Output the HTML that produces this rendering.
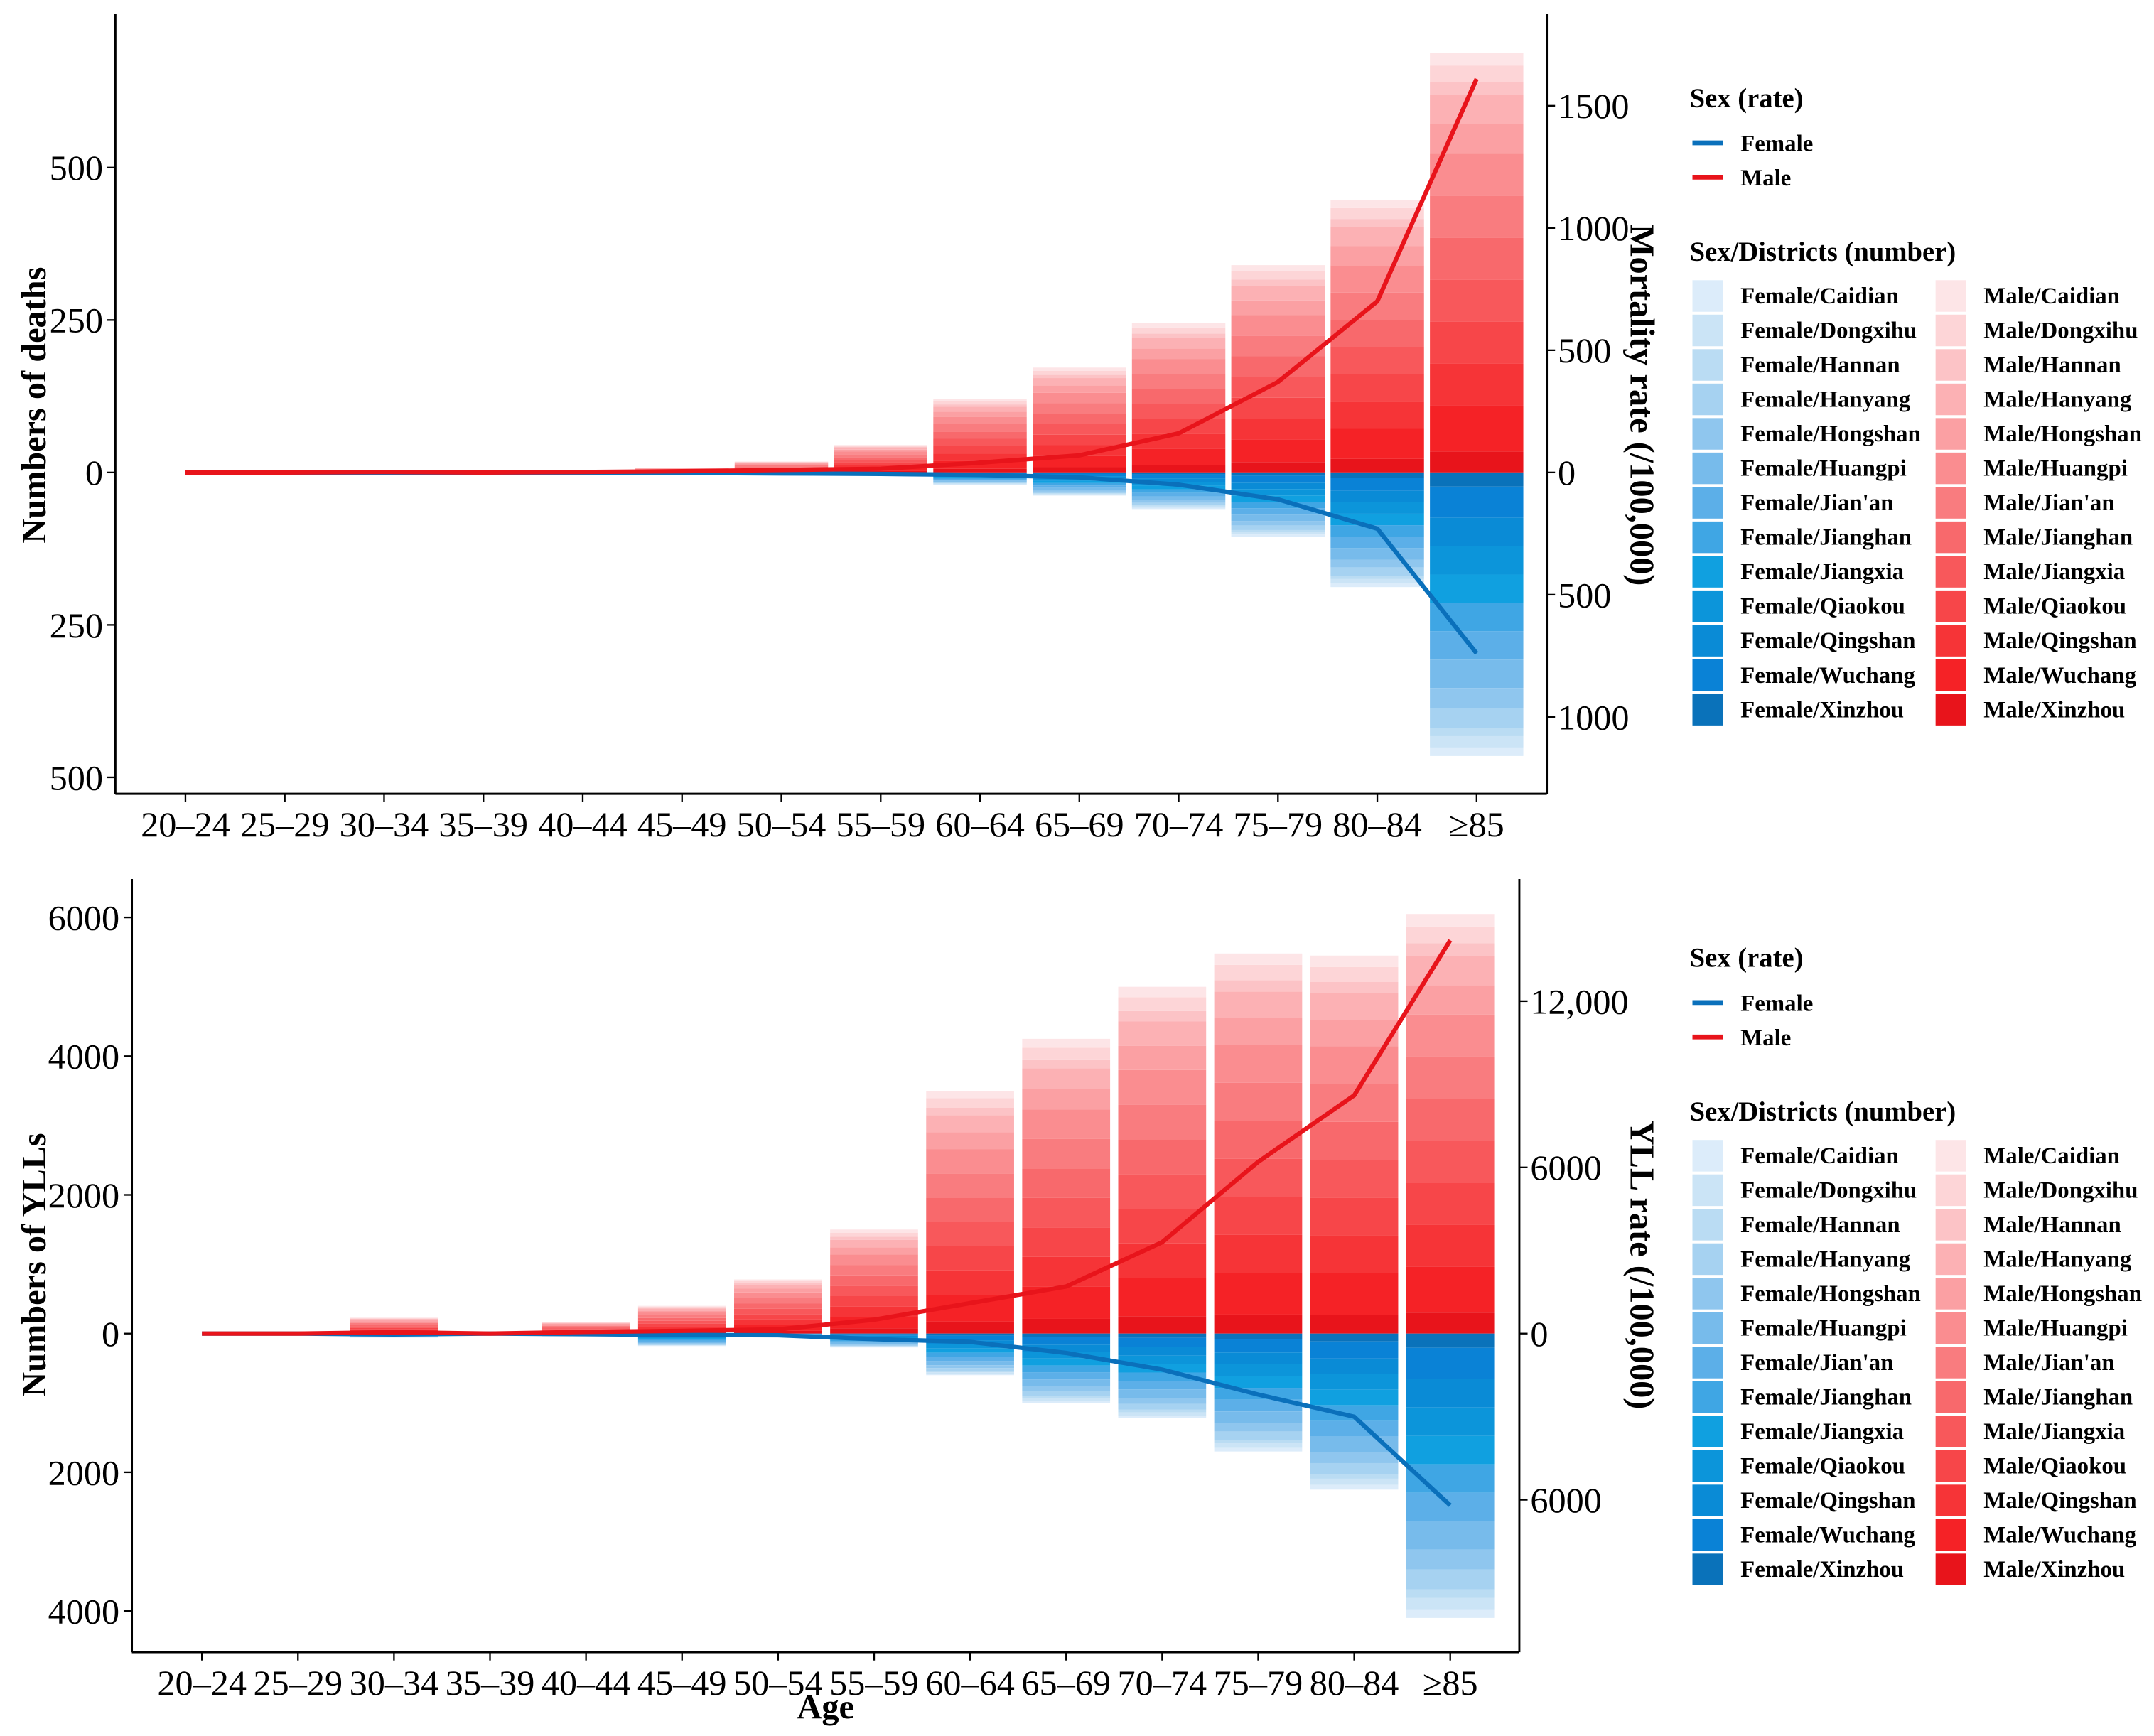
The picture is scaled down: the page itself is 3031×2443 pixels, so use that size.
<!DOCTYPE html>
<html><head><meta charset="utf-8"><style>
html,body{margin:0;padding:0;background:#fff}
svg{display:block}
text{font-family:"Liberation Serif",serif}
</style></head><body>
<svg id="chart" width="3031" height="2443" viewBox="0 0 1568 1264" preserveAspectRatio="none" xmlns="http://www.w3.org/2000/svg"></svg>
<script>
const ages=["20–24","25–29","30–34","35–39","40–44","45–49","50–54","55–59","60–64","65–69","70–74","75–79","80–84","≥85"];
const districts=["Caidian","Dongxihu","Hannan","Hanyang","Hongshan","Huangpi","Jian'an","Jianghan","Jiangxia","Qiaokou","Qingshan","Wuchang","Xinzhou"];
const districtShare=[0.03,0.04,0.03,0.07,0.07,0.10,0.10,0.10,0.10,0.10,0.10,0.11,0.05];
const blues=["#dcecfa","#cbe4f6","#badcf3","#a6d2f1","#8fc6ee","#77bbeb","#5cafe8","#3fa6e4","#10a0e0","#0c95da","#0a8bd6","#0a82d6","#0a72ba"];
const reds=["#fde5e7","#fdd5d7","#fcc3c6","#fcb1b4","#fba0a3","#fa8d90","#f97c7f","#f8696c","#f8585b","#f74649","#f63437","#f52226","#e8141b"];
// Panel 1: deaths
const deathsMale=[0,0,1,0,1,8,18,45,120,172,245,340,447,688];
const deathsFemale=[0,0,0,0,0,2,3,5,20,38,60,105,188,465];
const mortMale=[0,0,2,0,2,5,10,15,40,70,160,370,700,1610];
const mortFemale=[0,0,0,0,0,2,4,6,10,20,50,110,230,740];
const p1LeftTicks=[-500,-250,0,250,500];
const p1RightTicks=[-1000,-500,0,500,1000,1500];
// Panel 2: YLLs
const yllMale=[0,0,230,0,170,400,780,1500,3500,4250,5000,5480,5450,6050];
const yllFemale=[0,0,60,0,40,180,30,200,600,1000,1220,1700,2250,4100];
const yllRateMale=[0,0,50,0,60,100,150,500,1100,1700,3300,6200,8600,14200];
const yllRateFemale=[0,0,-30,0,-20,-50,-60,-200,-300,-700,-1300,-2200,-3000,-6200];
const p2LeftTicks=[-4000,-2000,0,2000,4000,6000];
const p2RightTicks=[-6000,0,6000,12000];
const p2RightLabels=["6000","0","6000","12,000"];

const svg=document.getElementById('chart');
const NS="http://www.w3.org/2000/svg";
function mk(tag,attrs,parent){const e=document.createElementNS(NS,tag);for(const k in attrs)e.setAttribute(k,attrs[k]);(parent||svg).appendChild(e);return e;}

function panel(cfg){
  const g=mk('g',{});
  
  
  const xs=i=>cfg.x0+i*cfg.dx;
  const yl=v=>cfg.zero-v*cfg.ls;
  const yr=v=>cfg.zero-v*cfg.rs;
  ages.forEach((a,i)=>{
    let base=0;
    for(let d=districts.length-1;d>=0;d--){
      const v=cfg.male[i]*districtShare[d];
      const r=mk('rect',{x:xs(i)-cfg.bw/2,y:yl(base+v),width:cfg.bw,height:Math.max(0,v*cfg.ls),fill:reds[d]},g);
      
      
      base+=v;
    }
    base=0;
    for(let d=districts.length-1;d>=0;d--){
      const v=cfg.female[i]*districtShare[d];
      const r=mk('rect',{x:xs(i)-cfg.bw/2,y:yl(-base),width:cfg.bw,height:Math.max(0,v*cfg.ls),fill:blues[d]},g);
      
      
      base+=v;
    }
  });
  const pm=cfg.rateM.map((v,i)=>xs(i)+','+yr(v)).join(' ');
  const pf=cfg.rateF.map((v,i)=>xs(i)+','+yr(cfg.femaleRateSigned?v:-v)).join(' ');
  const lf=mk('polyline',{points:pf,fill:'none',stroke:'#0a70bb','stroke-width':3.2},g);
  
  
  const lm=mk('polyline',{points:pm,fill:'none',stroke:'#e8141b','stroke-width':3.2},g);
  
  
  mk('line',{x1:cfg.left,y1:cfg.top,x2:cfg.left,y2:cfg.bottom,stroke:'#000','stroke-width':1.5},g);
  mk('line',{x1:cfg.right,y1:cfg.top,x2:cfg.right,y2:cfg.bottom,stroke:'#000','stroke-width':1.5},g);
  mk('line',{x1:cfg.left,y1:cfg.bottom,x2:cfg.right,y2:cfg.bottom,stroke:'#000','stroke-width':1.5},g);
  cfg.lt.forEach(v=>{
    mk('line',{x1:cfg.left-6,x2:cfg.left,y1:yl(v),y2:yl(v),stroke:'#000','stroke-width':1.2},g);
    const t=mk('text',{x:cfg.left-9,y:yl(v)+9,'text-anchor':'end','font-size':26},g);t.textContent=Math.abs(v);
    
    
  });
  cfg.rt.forEach((v,k)=>{
    mk('line',{x1:cfg.right,x2:cfg.right+6,y1:yr(v),y2:yr(v),stroke:'#000','stroke-width':1.2},g);
    const t=mk('text',{x:cfg.right+8,y:yr(v)+9,'font-size':26},g);t.textContent=cfg.rl?cfg.rl[k]:Math.abs(v);
    
    
  });
  ages.forEach((a,i)=>{
    mk('line',{x1:xs(i),x2:xs(i),y1:cfg.bottom,y2:cfg.bottom+6,stroke:'#000','stroke-width':1.2},g);
    const t=mk('text',{x:xs(i),y:cfg.bottom+31,'text-anchor':'middle','font-size':26},g);t.textContent=a;
    
    
  });
  const t1=mk('text',{x:0,y:0,transform:`translate(33,${cfg.titleY}) rotate(-90)`,'text-anchor':'middle','font-size':25,'font-weight':'bold'},g);t1.textContent=cfg.ltitle;
  
  
  const t2=mk('text',{x:0,y:0,transform:`translate(1187,${cfg.titleY}) rotate(90)`,'text-anchor':'middle','font-size':25,'font-weight':'bold'},g);t2.textContent=cfg.rtitle;
  
  
  const L=cfg.leg;
  const lt=mk('text',{x:1230,y:L+7,'font-size':20,'font-weight':'bold'},g);lt.textContent='Sex (rate)';
  
  
  [['Female','#0a70bb'],['Male','#e8141b']].forEach((s,k)=>{
    const y=L+33+k*25;
    mk('line',{x1:1232,x2:1254,y1:y,y2:y,stroke:s[1],'stroke-width':3.5},g);
    const t=mk('text',{x:1267,y:y+6,'font-size':17,'font-weight':'bold'},g);t.textContent=s[0];
    
    
  });
  const lt2=mk('text',{x:1230,y:L+119,'font-size':20,'font-weight':'bold'},g);lt2.textContent='Sex/Districts (number)';
  
  
  districts.forEach((d,k)=>{
    const y=L+133+k*25.1;
    mk('rect',{x:1232,y:y,width:22,height:23,fill:blues[k]},g);
    mk('rect',{x:1409,y:y,width:22,height:23,fill:reds[k]},g);
    const a=mk('text',{x:1267,y:y+17,'font-size':17,'font-weight':'bold'},g);a.textContent='Female/'+d;
    
    
    const b=mk('text',{x:1444,y:y+17,'font-size':17,'font-weight':'bold'},g);b.textContent='Male/'+d;
    
    
  });
}
panel({name:'deaths-panel',x0:135,dx:72.3,bw:68,zero:344,ls:0.444,rs:0.178,left:84,right:1126,top:10,bottom:578,
  male:deathsMale,female:deathsFemale,rateM:mortMale,rateF:mortFemale,femaleRateSigned:false,
  lt:p1LeftTicks,rt:p1RightTicks,ltitle:'Numbers of deaths',rtitle:'Mortality rate (/100,000)',titleY:295,leg:71});
panel({name:'ylls-panel',x0:147,dx:69.9,bw:64,zero:971,ls:0.0505,rs:0.02017,left:96,right:1106,top:640,bottom:1203,
  male:yllMale,female:yllFemale,rateM:yllRateMale,rateF:yllRateFemale,femaleRateSigned:true,
  lt:p2LeftTicks,rt:p2RightTicks,rl:p2RightLabels,ltitle:'Numbers of YLLs',rtitle:'YLL rate (/100,000)',titleY:921,leg:697});
const ax=mk('text',{x:601,y:1251,'text-anchor':'middle','font-size':25,'font-weight':'bold'});ax.textContent='Age';


</script>
</body></html>
